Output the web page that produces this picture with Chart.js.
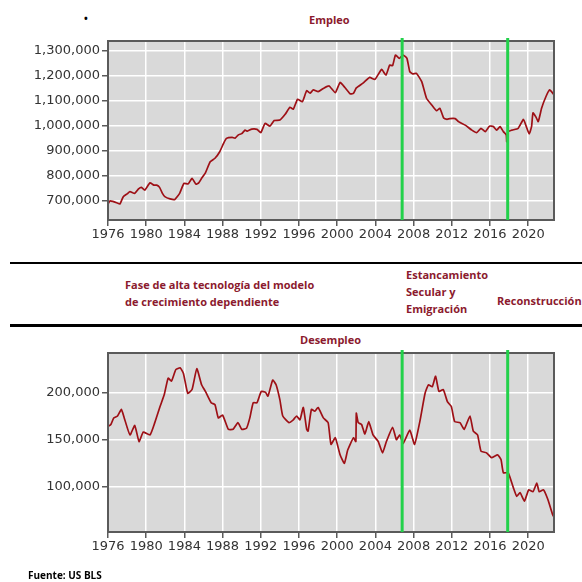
<!DOCTYPE html>
<html lang="es">
<head>
<meta charset="UTF-8">
<title>Empleo y Desempleo</title>
<script src="https://cdn.jsdelivr.net/npm/chart.js"></script>
<style>
  body { margin: 0; background: #fff; width: 582px; height: 582px; overflow: hidden; position: relative; font-family: "Open Sans", sans-serif; }
  canvas { position: absolute; left: 0; }
  #empCanvas { top: 0; }
  #desCanvas { top: 330px; }
  .lbl { position: absolute; color: #8b1a2e; font-weight: 700; font-size: 11px; line-height: 17px; white-space: nowrap; }
  .rule { position: absolute; left: 10px; width: 572px; background: #000; }
</style>
</head>
<body>
  <div class="lbl" style="left:84px;top:10px;color:#000;font-size:10px;">•</div>
  <div class="lbl" style="left:309px;top:11px;">Empleo</div>
  <canvas id="empCanvas" width="582" height="250"></canvas>

  <div class="rule" style="top:262px;height:2px;"></div>
  <div class="lbl" style="left:125px;top:276px;">Fase de alta tecnología del modelo<br>de crecimiento dependiente</div>
  <div class="lbl" style="left:406px;top:266px;">Estancamiento<br>Secular y<br>Emigración</div>
  <div class="lbl" style="left:497px;top:292px;">Reconstrucción</div>
  <div class="rule" style="top:324px;height:3px;"></div>

  <div class="lbl" style="left:300px;top:331px;">Desempleo</div>
  <canvas id="desCanvas" width="582" height="252"></canvas>

  <div class="lbl" style="left:28px;top:567px;color:#000;font-size:10px;">Fuente: US BLS</div>

<script>
// Empleo (años y valores)
const empYears = [1976.0, 1976.2, 1976.5, 1976.9, 1977.25, 1977.6, 1978.0, 1978.3, 1978.8, 1979.2, 1979.5, 1979.85,
  1980.4, 1980.8, 1981.1, 1981.4, 1981.7, 1981.95, 1982.5, 1983.0, 1983.5, 1983.95, 1984.4, 1984.8, 1985.2, 1985.5,
  1985.8, 1986.2, 1986.7, 1987.2, 1987.7, 1988.1, 1988.4, 1989.0, 1989.3, 1989.65, 1990.0, 1990.35, 1990.6, 1991.05,
  1991.6, 1992.0, 1992.45, 1992.95, 1993.4, 1994.0, 1994.55, 1995.05, 1995.4, 1995.85, 1996.35, 1996.8, 1997.15,
  1997.5, 1998.0, 1998.55, 1999.15, 1999.8, 2000.3, 2000.8, 2001.35, 2001.7, 2002.0, 2002.7, 2003.4, 2003.95, 2004.65,
  2005.1, 2005.5, 2005.8, 2006.1, 2006.5, 2006.9, 2007.3, 2007.6, 2007.9, 2008.3, 2008.85, 2009.35, 2009.9, 2010.4,
  2010.75, 2011.15, 2011.5, 2011.8, 2012.35, 2012.7, 2013.4, 2014.1, 2014.6, 2015.05, 2015.5, 2015.95, 2016.35, 2016.7,
  2017.05, 2017.4, 2017.7, 2017.75, 2017.9, 2018.3, 2018.95, 2019.5, 2019.8, 2020.1, 2020.35, 2020.5, 2020.8, 2021.05,
  2021.4, 2021.85, 2022.25, 2022.7];
const empValues = [688000, 700000, 698000, 693000, 688000, 717000, 728000, 737000, 730000, 748000, 754000, 743000,
  772000, 763000, 763000, 754000, 730000, 717000, 708000, 706000, 730000, 770000, 768000, 790000, 767000, 772000,
  790000, 812000, 856000, 870000, 896000, 929000, 949000, 953000, 950000, 963000, 968000, 982000, 978000, 986000,
  985000, 972000, 1009000, 998000, 1020000, 1022000, 1045000, 1073000, 1065000, 1105000, 1095000, 1139000, 1129000,
  1142000, 1135000, 1148000, 1158000, 1131000, 1172000, 1152000, 1127000, 1128000, 1150000, 1169000, 1192000, 1184000, 1224000,
  1201000, 1241000, 1239000, 1281000, 1268000, 1281000, 1268000, 1215000, 1206000, 1208000, 1175000, 1109000, 1082000, 1059000,
  1069000, 1030000, 1025000, 1028000, 1028000, 1016000, 1002000, 982000, 972000, 989000, 976000, 998000, 996000, 982000,
  996000, 976000, 963000, 936000, 976000, 982000, 989000, 1025000, 996000, 967000, 996000, 1051000, 1035000, 1016000,
  1069000, 1115000, 1142000, 1122000];

// Desempleo
const desYears = [1976.0, 1976.3, 1976.6, 1977.0, 1977.4, 1977.7, 1978.3, 1978.8, 1979.25, 1979.7, 1980.4, 1980.9,
  1981.45, 1981.9, 1982.3, 1982.65, 1983.1, 1983.55, 1983.9, 1984.35, 1984.8, 1985.3, 1985.8, 1986.2, 1986.8, 1987.2,
  1987.55, 1988.0, 1988.6, 1989.1, 1989.6, 1990.0, 1990.5, 1990.85, 1991.2, 1991.6, 1992.05, 1992.5, 1992.75, 1993.25,
  1993.6, 1994.0, 1994.3, 1994.95, 1995.4, 1995.75, 1996.1, 1996.45, 1996.8, 1996.95, 1997.3, 1997.65, 1998.0, 1998.55,
  1999.05, 1999.35, 1999.8, 2000.3, 2000.75, 2001.1, 2001.7, 2001.95, 2002.0, 2002.2, 2002.55, 2002.9, 2003.3, 2003.75,
  2004.3, 2004.75, 2005.15, 2005.8, 2006.2, 2006.55, 2006.9, 2007.6, 2008.1, 2008.65, 2009.2, 2009.55, 2009.95, 2010.3,
  2010.65, 2011.1, 2011.55, 2011.95, 2012.3, 2012.85, 2013.3, 2013.9, 2014.25, 2014.7, 2015.05, 2015.65, 2016.15, 2016.8,
  2017.15, 2017.4, 2017.9, 2018.45, 2018.8, 2019.15, 2019.6, 2020.05, 2020.5, 2020.9, 2021.15, 2021.6, 2022.05, 2022.55, 2022.7];
const desValues = [164000, 166000, 173000, 175000, 182000, 173000, 155000, 165000, 148000, 158000, 155000, 168000,
  185000, 198000, 215000, 212000, 224000, 226000, 220000, 199000, 203000, 225000, 208000, 201000, 189000, 187000,
  173000, 176000, 161000, 161000, 168000, 161000, 162000, 173000, 189000, 189000, 201000, 200000, 196000, 213000,
  208000, 192000, 175000, 168000, 171000, 175000, 171000, 184000, 161000, 159000, 182000, 180000, 184000, 173000,
  168000, 145000, 152000, 134000, 125000, 139000, 152000, 148000, 178000, 168000, 166000, 156000, 169000, 155000,
  148000, 136000, 148000, 163000, 150000, 155000, 146000, 160000, 145000, 169000, 199000, 208000, 206000, 217000,
  201000, 203000, 190000, 185000, 169000, 168000, 161000, 175000, 159000, 155000, 138000, 136000, 131000, 134000,
  129000, 115000, 115000, 99000, 90000, 94000, 85000, 97000, 95000, 104000, 95000, 97000, 87000, 71000, 68000];

// Cortes de fase (líneas verdes)
const phaseBreaks = [2006.8, 2017.85];

const empTicks = [700000, 800000, 900000, 1000000, 1100000, 1200000, 1300000];
const desTicks = [100000, 150000, 200000];

const toPoints = (xs, ys) => xs.map((x, i) => ({ x: x, y: ys[i] }));

// fondo gris, borde del área y líneas verdes
const framePlugin = {
  id: 'frame',
  beforeDraw(chart) {
    const a = chart.chartArea, ctx = chart.ctx;
    ctx.save();
    ctx.fillStyle = '#d9d9d9';
    ctx.fillRect(a.left, a.top, a.right - a.left, a.bottom - a.top);
    ctx.restore();
  },
  afterDraw(chart) {
    const a = chart.chartArea, ctx = chart.ctx, xs = chart.scales.x;
    ctx.save();
    ctx.strokeStyle = '#5a5a5a';
    ctx.lineWidth = 2;
    ctx.strokeRect(a.left, a.top, a.right - a.left, a.bottom - a.top);
    ctx.strokeStyle = '#22d14a';
    ctx.lineWidth = 3;
    phaseBreaks.forEach(yr => {
      const px = xs.getPixelForValue(yr);
      ctx.beginPath();
      ctx.moveTo(px, a.top - 3);
      ctx.lineTo(px, a.bottom);
      ctx.stroke();
    });
    ctx.restore();
  }
};

function makeChart(id, xs, ys, yMin, yMax, yTicks, padBottom) {
  return new Chart(document.getElementById(id), {
    type: 'line',
    data: {
      datasets: [{
        data: toPoints(xs, ys),
        borderColor: '#9e1016',
        borderWidth: 1.7,
        pointRadius: 0,
        tension: 0.15,
        fill: false
      }]
    },
    options: {
      responsive: false,
      animation: false,
      layout: { padding: { top: id === 'empCanvas' ? 41 : 23, right: 28, bottom: padBottom, left: 0 } },
      plugins: { legend: { display: false }, tooltip: { enabled: false } },
      scales: {
        x: {
          type: 'linear', min: 1976, max: 2022.7,
          afterFit: s => { s.height = 30; },
          afterBuildTicks: s => { s.ticks = []; for (let y = 1976; y <= 2020; y += 4) s.ticks.push({ value: y }); },
          grid: { color: '#ffffff', lineWidth: 1.5, tickColor: '#5a5a5a', tickLength: 6 },
          border: { display: false },
          ticks: { color: '#333', font: { family: 'DejaVu Sans', size: 13 }, padding: 1, maxRotation: 0, autoSkip: false,
                   callback: v => String(v) }
        },
        y: {
          min: yMin, max: yMax,
          afterFit: s => { s.width = 108; },
          afterBuildTicks: s => { s.ticks = yTicks.map(v => ({ value: v })); },
          grid: { color: '#ffffff', lineWidth: 1.5, tickColor: '#5a5a5a', tickLength: 6 },
          border: { display: false },
          ticks: { color: '#333', font: { family: 'DejaVu Sans', size: 13 }, padding: 2,
                   callback: v => v.toLocaleString('en-US') }
        }
      }
    },
    plugins: [framePlugin]
  });
}

makeChart('empCanvas', empYears, empValues, 624000, 1337000, empTicks, 0);
makeChart('desCanvas', desYears, desValues, 52400, 241600, desTicks, 20);
</script>
</body>
</html>
